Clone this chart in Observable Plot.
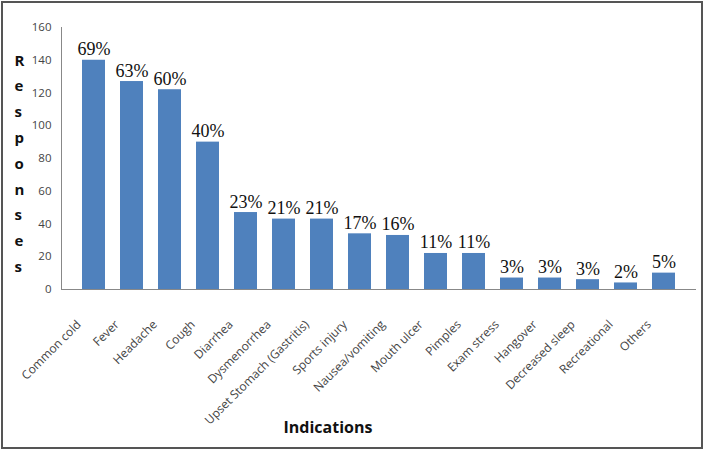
<!DOCTYPE html>
<html>
<head>
<meta charset="utf-8">
<script src="https://cdn.jsdelivr.net/npm/d3@7"></script>
<script src="https://cdn.jsdelivr.net/npm/@observablehq/plot@0.6"></script>
<style>
  html, body { margin: 0; padding: 0; background: #fff; }
  #wrap { position: relative; width: 704px; height: 450px; overflow: hidden; }
  #border { position: absolute; left: 1px; top: 1px; width: 698px; height: 444px; border: 2px solid #555; pointer-events: none; }
</style>
</head>
<body>
<div id="wrap"><div id="chart"></div><div id="border"></div></div>
<script>
const categories = ["Common cold","Fever","Headache","Cough","Diarrhea","Dysmenorrhea","Upset Stomach (Gastritis)","Sports injury","Nausea/vomiting","Mouth ulcer","Pimples","Exam stress","Hangover","Decreased sleep","Recreational","Others"];
const responses = [140,127,122,90,47,43,43,34,33,22,22,7,7,6,4,10];
const percentLabels = ["69%","63%","60%","40%","23%","21%","21%","17%","16%","11%","11%","3%","3%","3%","2%","5%"];
const yTicks = [0,20,40,60,80,100,120,140,160];
const yTitle = "R\ne\ns\np\no\nn\ns\ne\ns";
const xTitle = "Indications";

const data = categories.map((c, i) => ({category: c, value: responses[i], pct: percentLabels[i]}));

const chart = Plot.plot({
  width: 704,
  height: 450,
  marginLeft: 61,
  marginRight: 8,
  marginTop: 27,
  marginBottom: 161,
  style: {fontFamily: "'Open Sans', sans-serif", background: "transparent"},
  x: {domain: categories, padding: 0.4, label: null},
  y: {domain: [0, 160], label: null},
  marks: [
    Plot.axisY({ticks: yTicks, tickSize: 0, tickPadding: 10, fontSize: 11.5, color: "#444", label: null}),
    Plot.axisX({tickSize: 0, tickPadding: 33, tickRotate: -45, dx: -15, fontSize: 12, color: "#444", label: null}),
    Plot.barY(data, {x: "category", y: "value", fill: "#4f81bd"}),
    Plot.frame({anchor: "left", stroke: "#888"}),
    Plot.ruleY([0], {stroke: "#888"}),
    Plot.text(data, {x: "category", y: "value", text: "pct", dy: -5, lineAnchor: "bottom", fontFamily: "'Liberation Serif', serif", fontSize: 18, fill: "#111"}),
    Plot.text([yTitle], {frameAnchor: "left", dx: -47, dy: 2, lineHeight: 1.72, fontSize: 15, fontWeight: "bold", fill: "#111"}),
    Plot.text([xTitle], {frameAnchor: "bottom", lineAnchor: "middle", dx: -51, dy: 138, fontSize: 16, fontWeight: "bold", fill: "#111"})
  ]
});
document.getElementById("chart").appendChild(chart);
</script>
</body>
</html>
